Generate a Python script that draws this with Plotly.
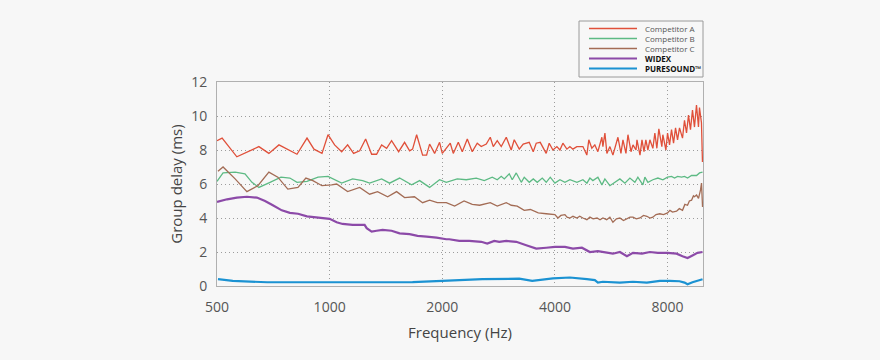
import math
import plotly.graph_objects as go

# ---------------- data ----------------
freq_a = [500, 516, 565, 647, 688, 732, 818, 870, 908, 954, 990, 1031, 1077, 1117, 1159, 1203, 1248, 1295,
          1335, 1377, 1420, 1464, 1529, 1586, 1636, 1666, 1708, 1772, 1816, 1850, 1908, 1967, 2000, 2050,
          2101, 2140, 2207, 2262, 2333, 2405, 2480, 2542, 2622, 2687, 2737, 2805, 2875, 2965, 3057, 3114,
          3212, 3291, 3415, 3500, 3565, 3654, 3791, 3862, 3951, 4049, 4125, 4201, 4306, 4386, 4468, 4577,
          4665, 4752, 4868, 4928, 5020, 5114, 5210, 5340, 5374, 5441, 5508, 5611, 5716, 5823, 5895, 6005,
          6080, 6193, 6270, 6388, 6467, 6588, 6628, 6752, 6835, 6920, 7000, 7088, 7176, 7308, 7399, 7490,
          7583, 7724, 7772, 7920, 8000, 8099, 8198, 8300, 8403, 8507, 8611, 8772, 8880, 8990, 9101, 9213,
          9327, 9442, 9559, 9677, 9736, 9857, 9917]
delay_a = [8.55, 8.7, 7.6, 8.2, 7.8, 8.3, 7.75, 8.7, 8.05, 7.8, 8.9, 8.3, 7.9, 8.3, 7.8, 7.95, 8.65, 7.75,
           7.75, 8.3, 8.1, 8.55, 7.9, 8.45, 7.95, 8.05, 8.9, 7.7, 7.7, 8.35, 7.8, 8.45, 7.8, 8.1,
           8.4, 7.8, 8.45, 7.9, 8.65, 7.9, 8.4, 8.2, 8.35, 8.75, 8.2, 8.55, 8.2, 8.75, 8.0, 8.6,
           8.05, 8.35, 8.45, 7.9, 8.4, 8.45, 7.8, 8.4, 8.0, 8.2, 8.0, 8.4, 8.05, 8.2, 8.05, 8.2,
           8.2, 8.2, 7.7, 8.6, 8.1, 8.3, 7.9, 8.75, 8.2, 9.0, 7.8, 8.2, 7.7, 8.4, 8.75, 7.8,
           8.6, 7.8, 8.9, 7.9, 8.3, 8.0, 8.6, 7.7, 8.6, 7.9, 8.6, 8.0, 8.6, 8.1, 9.0, 8.1,
           9.25, 8.2, 8.9, 8.0, 9.0, 8.3, 9.2, 8.4, 9.3, 8.6, 9.3, 8.7, 9.75, 9.0, 10.05, 9.2,
           10.35, 9.35, 10.65, 9.35, 10.5, 9.6, 7.3]

freq_b = [500, 519, 559, 594, 620, 647, 693, 741, 783, 818, 870, 931, 990, 1031, 1077, 1152, 1225, 1279,
          1377, 1446, 1538, 1656, 1740, 1850, 1967, 2050, 2193, 2318, 2465, 2590, 2720, 2805, 2875, 2929,
          3020, 3076, 3153, 3252, 3312, 3416, 3501, 3588, 3700, 3792, 3887, 4000, 4125, 4254, 4387, 4580,
          4752, 4870, 4961, 5053, 5211, 5341, 5440, 5610, 5786, 5966, 6153, 6345, 6543, 6665, 6873, 6958,
          7088, 7309, 7538, 7773, 8000, 8199, 8352, 8508, 8720, 8882, 9047, 9273, 9562, 9740, 9922]
delay_b = [6.15, 6.65, 6.7, 6.6, 6.1, 5.8, 6.1, 6.4, 6.35, 6.1, 6.15, 6.4, 6.45, 6.25, 6.05, 6.3, 6.2, 6.05,
           6.3, 6.05, 6.35, 5.95, 6.2, 5.8, 6.25, 6.1, 6.3, 6.25, 6.35, 6.2, 6.4, 6.25, 6.45, 6.3,
           6.6, 6.25, 6.65, 6.1, 6.4, 6.1, 6.3, 6.1, 6.35, 6.1, 6.4, 6.05, 6.25, 6.1, 6.25, 6.1,
           6.25, 6.05, 6.35, 6.2, 6.4, 5.95, 6.3, 5.9, 6.1, 6.3, 6.05, 6.35, 6.1, 6.4, 5.95, 6.4,
           6.1, 6.25, 6.35, 6.25, 6.4, 6.45, 6.35, 6.45, 6.4, 6.45, 6.35, 6.5, 6.5, 6.65, 6.7]

freq_c = [503, 519, 559, 601, 643, 688, 727, 773, 823, 864, 902, 954, 1012, 1044, 1117, 1203, 1279, 1343,
          1429, 1510, 1586, 1685, 1772, 1850, 1940, 2050, 2158, 2287, 2405, 2517, 2687, 2805, 2965, 3057,
          3172, 3312, 3440, 3610, 3791, 4000, 4075, 4150, 4254, 4310, 4387, 4470, 4580, 4660, 4752, 4870,
          4961, 5060, 5184, 5280, 5374, 5500, 5610, 5716, 5840, 5966, 6100, 6231, 6350, 6467, 6600, 6752,
          6900, 7044, 7180, 7309, 7450, 7630, 7800, 8000, 8120, 8249, 8455, 8600, 8772, 8900, 9047, 9150,
          9273, 9380, 9442, 9562, 9680, 9800, 9860, 9922]
delay_c = [6.75, 7.0, 6.3, 5.55, 5.9, 6.7, 6.4, 5.7, 5.8, 6.35, 6.2, 5.9, 5.95, 6.0, 5.55, 5.8, 5.4, 5.55,
           5.25, 5.55, 5.2, 5.25, 4.9, 5.05, 4.9, 4.9, 4.7, 5.0, 4.8, 4.75, 4.9, 4.7, 4.9, 4.75,
           4.7, 4.45, 4.5, 4.3, 4.25, 4.2, 4.0, 4.15, 4.2, 4.05, 4.0, 4.1, 4.0, 4.1, 4.0, 3.9,
           4.05, 3.95, 4.0, 3.9, 4.0, 3.9, 4.05, 3.75, 3.95, 4.0, 3.85, 3.95, 4.05, 4.05, 3.95, 4.0,
           4.15, 4.1, 4.0, 4.05, 4.2, 4.25, 4.2, 4.3, 4.45, 4.35, 4.4, 4.55, 4.45, 4.8, 4.75, 5.0,
           5.05, 5.3, 5.25, 5.35, 5.15, 5.65, 6.05, 4.65]

freq_w = [500, 532, 565, 601, 639, 672, 705, 745, 783, 823, 870, 913, 982, 1000, 1044, 1083, 1152, 1240,
          1256, 1295, 1335, 1385, 1464, 1538, 1636, 1718, 1816, 1931, 2050, 2088, 2220, 2361, 2542, 2638,
          2754, 2840, 2965, 3153, 3353, 3566, 3792, 4000, 4254, 4468, 4723, 4961, 5211, 5508, 5716, 5966,
          6229, 6467, 6835, 7176, 7538, 8000, 8455, 8772, 9047, 9327, 9621, 9922]
delay_w = [4.95, 5.1, 5.2, 5.25, 5.2, 5.0, 4.75, 4.45, 4.3, 4.25, 4.1, 4.05, 4.0, 3.95, 3.75, 3.65, 3.6, 3.6,
           3.4, 3.2, 3.25, 3.3, 3.25, 3.1, 3.05, 2.95, 2.9, 2.85, 2.75, 2.75, 2.65, 2.65, 2.6, 2.5,
           2.65, 2.6, 2.65, 2.6, 2.4, 2.2, 2.25, 2.3, 2.3, 2.2, 2.25, 2.0, 2.05, 1.95, 1.9, 2.0,
           1.75, 1.95, 1.9, 2.0, 1.95, 1.95, 1.9, 1.75, 1.65, 1.8, 1.95, 2.0]

freq_p = [503, 551, 681, 833, 1000, 1256, 1666, 2000, 2558, 3212, 3479, 3951, 4387, 4870, 5114, 5211, 5374,
          5966, 6467, 7044, 7630, 8099, 8611, 8882, 9047, 9327, 9740, 9922]
delay_p = [0.4, 0.3, 0.22, 0.22, 0.23, 0.23, 0.23, 0.3, 0.4, 0.43, 0.3, 0.45, 0.5, 0.4, 0.35, 0.2, 0.25,
           0.2, 0.25, 0.2, 0.3, 0.3, 0.28, 0.2, 0.1, 0.22, 0.35, 0.4]

series_names = ["Competitor A", "Competitor B", "Competitor C", "WIDEX", "PURESOUND™"]
tick_vals = [500, 1000, 2000, 4000, 8000]
tick_text = ["500", "1000", "2000", "4000", "8000"]

# ---------------- style ----------------
colors = ["#e0503a", "#5dba84", "#a36c55", "#8c4aa8", "#1b92d2"]
widths = [1.3, 1.3, 1.3, 2.2, 2.2]
BG = "#f7f7f7"
FONT = "Open Sans"

W, H = 880, 360
ML, MR, MT, MB = 217, 177, 82, 74
PW, PH = W - ML - MR, H - MT - MB


def px_x(p):
    return (p - ML) / PW


def px_y(p):
    return (H - MB - p) / PH


fig = go.Figure()
data = [(freq_a, delay_a), (freq_b, delay_b), (freq_c, delay_c), (freq_w, delay_w), (freq_p, delay_p)]
for name, (f, d), c, w in zip(series_names, data, colors, widths):
    fig.add_trace(go.Scatter(x=f, y=d, mode="lines", name=name, showlegend=False,
                             line=dict(color=c, width=w), hoverinfo="skip"))

axis_common = dict(showgrid=True, gridcolor="#9c9c9c", gridwidth=1, griddash="1px,3px",
                   showline=True, linecolor="#b0b0b0", linewidth=1, mirror=True, zeroline=False,
                   ticks="", tickfont=dict(family=FONT, size=14, color="#555555"))

fig.update_layout(
    width=W, height=H, margin=dict(l=ML, r=MR, t=MT, b=MB, autoexpand=False),
    paper_bgcolor=BG, plot_bgcolor=BG,
    font=dict(family=FONT, color="#444444"),
    xaxis=dict(type="log", range=[math.log10(500), math.log10(9950)], tickvals=tick_vals,
               ticktext=tick_text, ticklabelstandoff=8,
               title=dict(text="Frequency (Hz)", font=dict(family=FONT, size=15, color="#444444"),
                          standoff=12), **axis_common),
    yaxis=dict(range=[0, 12], dtick=2, tick0=0, ticklabelstandoff=6,
               title=dict(text="Group delay (ms)", font=dict(family=FONT, size=15, color="#444444"),
                          standoff=4), **axis_common),
)

# ---------------- legend (drawn manually) ----------------
shapes = [dict(type="rect", xref="paper", yref="paper", x0=px_x(579), x1=px_x(703), y0=px_y(77), y1=px_y(21),
               line=dict(color="#9a9a9a", width=1), fillcolor=BG, layer="above")]
annotations = []
rows = [28.5, 38.5, 48.5, 58.5, 68.5]
for name, c, yy, i in zip(series_names, colors, rows, range(5)):
    shapes.append(dict(type="line", xref="paper", yref="paper", x0=px_x(589), x1=px_x(637),
                       y0=px_y(yy), y1=px_y(yy), line=dict(color=c, width=1.6 if i < 3 else 2)))
    bold = i >= 3
    annotations.append(dict(xref="paper", yref="paper", x=px_x(644), y=px_y(yy), xanchor="left",
                            yanchor="middle", showarrow=False, borderpad=0,
                            text=("<b>%s</b>" % name) if bold else name,
                            font=dict(family=FONT, size=8, color="#111111" if bold else "#555555")))
fig.update_layout(shapes=shapes, annotations=annotations)

fig.write_html("out.html", config={"displayModeBar": False, "staticPlot": True},
               post_script="document.body.style.margin='0';document.body.style.background='%s';" % BG)
